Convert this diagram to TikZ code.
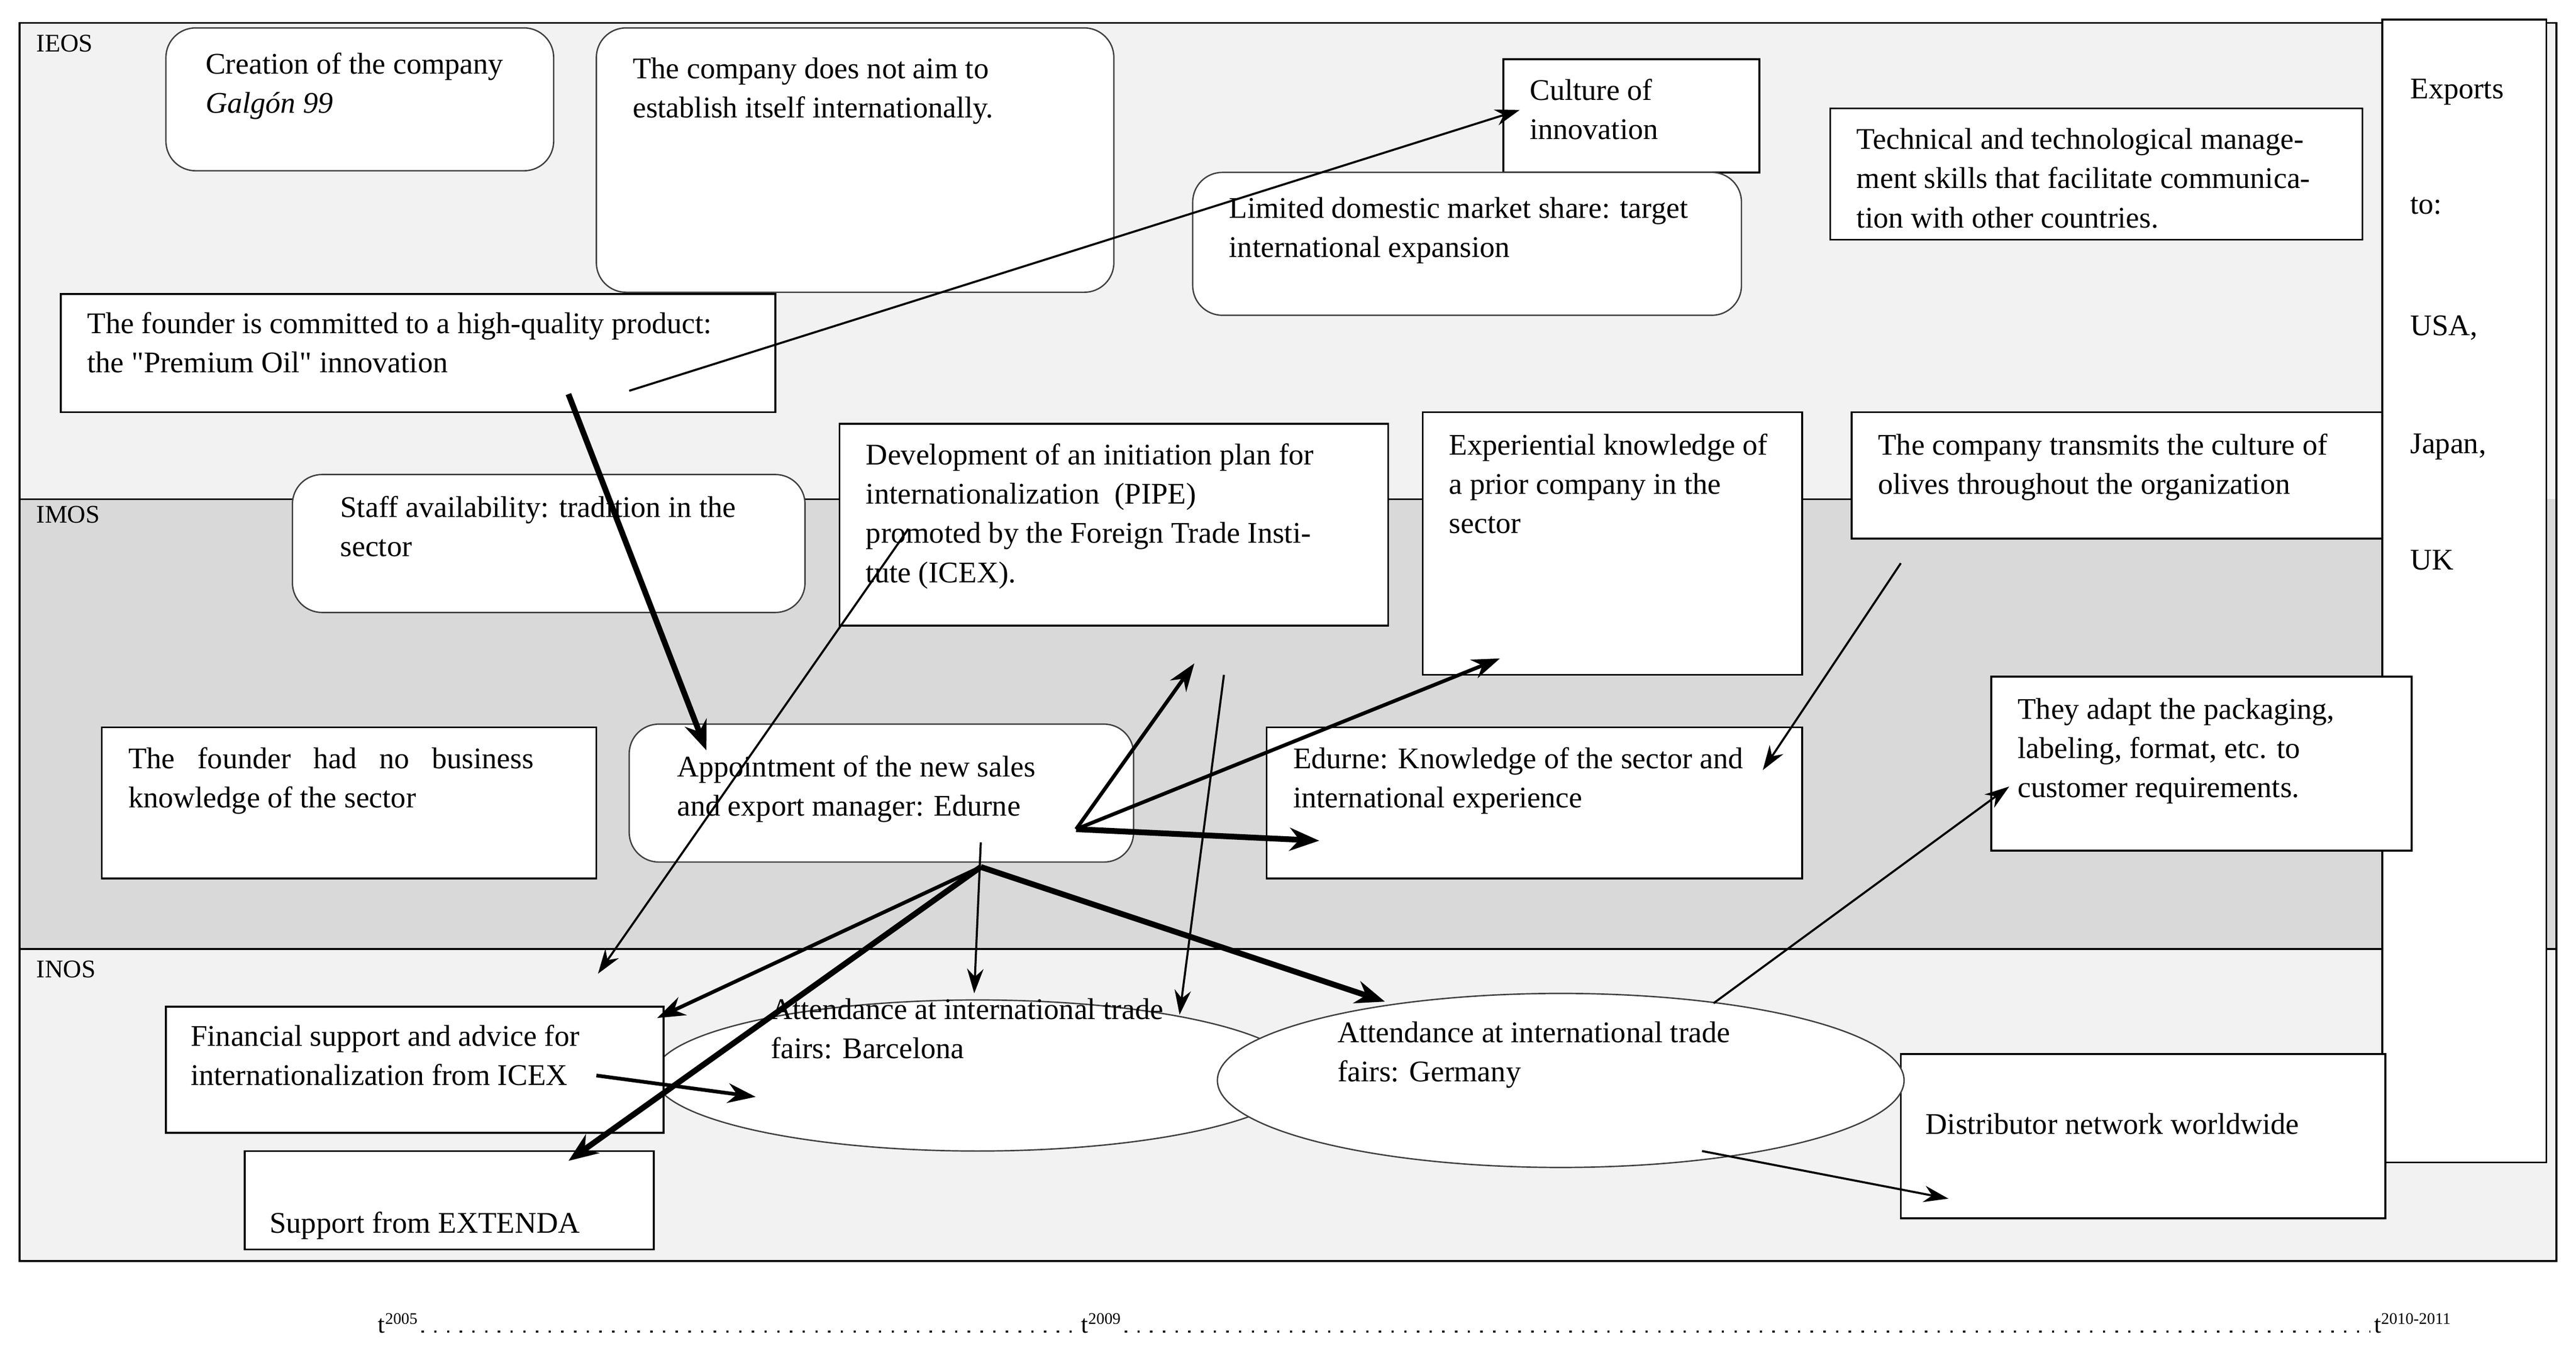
\documentclass[tikz,border=0pt]{standalone}
\usepackage{fontspec}
\setmainfont{Liberation Serif}
\usetikzlibrary{arrows.meta,fit,shapes.geometric,calc}
\definecolor{bandlight}{HTML}{F2F2F2}
\definecolor{banddark}{HTML}{D9D9D9}
\tikzset{
  box/.style={draw, line width=1.6pt, fill=white, inner sep=0pt},
  rbox/.style={draw=black!75, line width=1.2pt, fill=white, rounded corners=0.9cm, inner sep=0pt},
  txt/.style={anchor=north west, inner sep=0pt, align=left, font=\fontsize{26}{34}\selectfont},
  lab/.style={anchor=north west, inner sep=0pt, font=\fontsize{22}{26}\selectfont},
  thin/.style={line width=1.8pt, -{Stealth[length=0.75cm, width=0.5cm]}},
  mid/.style={line width=3.2pt, -{Stealth[length=0.85cm, width=0.6cm]}},
  heavy/.style={line width=5pt, -{Stealth[length=0.9cm, width=0.7cm]}},
  dots/.style={line width=2pt, dash pattern=on 2pt off 9pt},
}
\begin{document}
\begin{tikzpicture}[x=0.05cm, y=-0.05cm]
\useasboundingbox (0,0) rectangle (1568,830);
% bands
\fill[bandlight] (12,14) rectangle (1556,304);
\fill[banddark] (12,304) rectangle (1556,578);
\fill[bandlight] (12,578) rectangle (1556,768);
\draw[line width=1.6pt] (12,304) -- (1450,304);
\draw[line width=1.6pt] (12,578) -- (1556,578);
\draw[line width=1.6pt] (12,14) rectangle (1556,768);
\node[lab] (ieos) at (22,21) {IEOS};
\node[lab] (imos) at (22,308) {IMOS};
\node[lab] (inos) at (22,585) {INOS};

% exports column
\node[box, fit={(1450,12)(1550,708)}] (exports) {};
\node[txt] (exportstxt) at (1467,48) {Exports};
\node[txt] (to) at (1467,120) {to:};
\node[txt] (usa) at (1467,192) {USA,};
\node[txt] (japan) at (1467,264) {Japan,};
\node[txt] (uk) at (1467,335) {UK};

% IEOS
\node[rbox, fit={(101,17)(337,104)}] (creation) {};
\node[txt] at (125,32) {Creation of the company\\\textit{Galgón 99}};
\node[rbox, fit={(363,17)(678,178)}] (noaim) {};
\node[txt] at (385,35) {The company does not aim to\\establish itself internationally.};
\node[box, fit={(915,36)(1071,105)}] (culture) {};
\node[txt] at (931,48) {Culture of\\innovation};
\node[rbox, fit={(726,105)(1060,192)}] (limited) {};
\node[txt] at (748,120) {Limited domestic market share: target\\international expansion};
\node[box, fit={(1114,66)(1438,146)}] (technical) {};
\node[txt] at (1130,78) {Technical and technological manage-\\ment skills that facilitate communica-\\tion with other countries.};
\node[box, fit={(37,179)(472,251)}] (founder) {};
\node[txt] at (53,190) {The founder is committed to a high-quality product:\\the \textquotedbl Premium Oil\textquotedbl{} innovation};

% IMOS
\node[rbox, fit={(178,289)(490,373)}] (staff) {};
\node[txt] at (207,302) {Staff availability: tradition in the\\sector};
\node[box, fit={(511,258)(845,381)}] (pipe) {};
\node[txt] at (527,270) {Development of an initiation plan for\\internationalization\ \ (PIPE)\\promoted by the Foreign Trade Insti-\\tute (ICEX).};
\node[box, fit={(866,251)(1097,411)}] (experiential) {};
\node[txt] at (882,264) {Experiential knowledge of\\a prior company in the\\sector};
\node[box, fit={(1127,251)(1450,328)}] (transmits) {};
\node[txt] at (1143,264) {The company transmits the culture of\\olives throughout the organization};
\node[box, fit={(62,443)(363,535)}] (noknow) {};
\node[txt] at (78,455) {The\ \ \ founder\ \ \ had\ \ \ no\ \ \ business\\knowledge of the sector};
\node[rbox, fit={(383,441)(690,525)}] (appoint) {};
\node[txt] at (412,460) {Appointment of the new sales\\and export manager: Edurne};
\node[box, fit={(771,443)(1097,535)}] (edurne) {};
\node[txt] at (787,455) {Edurne: Knowledge of the sector and\\international experience};
\node[box, fit={(1212,412)(1468,518)}] (adapt) {};
\node[txt] at (1228,425) {They adapt the packaging,\\labeling, format, etc. to\\customer requirements.};

% INOS
\node[draw=black!75, line width=1.2pt, fill=white, ellipse, minimum width=19.7cm, minimum height=4.6cm] (barcelona) at (595,655) {};
\node[box, fit={(101,613)(404,690)}] (financial) {};
\node[txt] at (116,624) {Financial support and advice for\\internationalization from ICEX};
\node[box, fit={(149,701)(398,761)}] (extenda) {};
\node[txt] at (164,738) {Support from EXTENDA};
\node[box, fit={(1157,642)(1452,742)}] (distributor) {};
\node[txt] at (1172,678) {Distributor network worldwide};
\node[draw=black!75, line width=1.2pt, fill=white, ellipse, minimum width=20.9cm, minimum height=5.3cm] (germany) at (950,658) {};
\node[txt] at (469,608) {Attendance at international trade\\fairs: Barcelona};
\node[txt] at (814,622) {Attendance at international trade\\fairs: Germany};

% connector end points
\coordinate (a1) at (383,238); \coordinate (a2) at (925,67);
\coordinate (b1) at (346,240); \coordinate (b2) at (430,457);
\coordinate (c1) at (553,322); \coordinate (c2) at (364,593);
\coordinate (hub) at (655,505);
\coordinate (d1) at (727,404); \coordinate (d2) at (913,401); \coordinate (d3) at (803,512);
\coordinate (e1) at (745,411); \coordinate (e2) at (718,618);
\coordinate (f1) at (1157,343); \coordinate (f2) at (1073,469);
\coordinate (g0) at (597,513); \coordinate (g1) at (597,528);
\coordinate (g2) at (593,605); \coordinate (g3) at (400,620);
\coordinate (g4) at (346,707); \coordinate (g5) at (843,610);
\coordinate (h1) at (363,655); \coordinate (h2) at (460,668);
\coordinate (i1) at (1043,611); \coordinate (i2) at (1223,479);
\coordinate (j1) at (1036,701); \coordinate (j2) at (1186,730);

\draw[thin] (a1) -- (a2);
\draw[heavy] (b1) -- (b2);
\draw[thin] (c1) -- (c2);
\draw[mid] (hub) -- (d1);
\draw[mid] (hub) -- (d2);
\draw[heavy] (hub) -- (d3);
\draw[thin] (e1) -- (e2);
\draw[thin] (f1) -- (f2);
\draw[thin] (g0) -- (g2);
\draw[mid] (g1) -- (g3);
\draw[heavy] (g1) -- (g4);
\draw[heavy] (g1) -- (g5);
\draw[mid] (h1) -- (h2);
\draw[thin] (i1) -- (i2);
\draw[thin] (j1) -- (j2);

% timeline
\node[lab, anchor=south west] (t1) at (230,812) {t\textsuperscript{\fontsize{14}{14}\selectfont 2005}};
\node[lab, anchor=south west] (t2) at (658,812) {t\textsuperscript{\fontsize{14}{14}\selectfont 2009}};
\node[lab, anchor=south west] (t3) at (1445,812) {t\textsuperscript{\fontsize{14}{14}\selectfont 2010-2011}};
\draw[dots] ($(t1.south east)+(2,-1)$) -- ($(t2.south west)+(-2,-1)$);
\draw[dots] ($(t2.south east)+(2,-1)$) -- ($(t3.south west)+(-2,-1)$);
\end{tikzpicture}
\end{document}
